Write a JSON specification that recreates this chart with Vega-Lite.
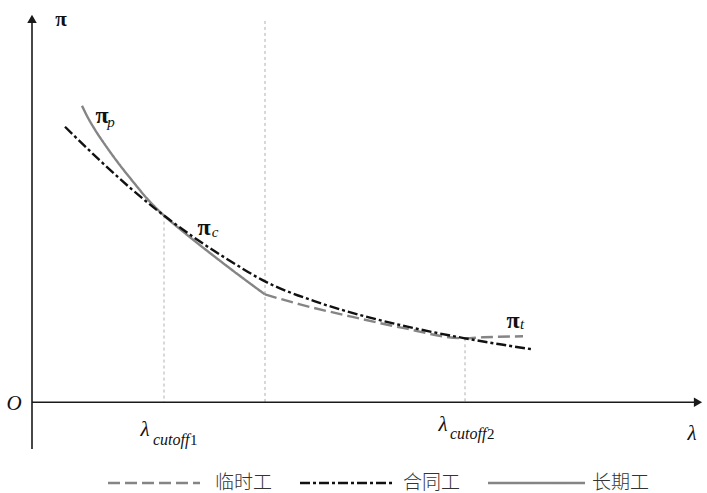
{
  "$schema": "https://vega.github.io/schema/vega-lite/v6.json",
  "width": 707,
  "height": 493,
  "autosize": {"type": "fit", "contains": "padding"},
  "padding": 0,
  "background": "white",
  "config": {"view": {"stroke": null}},
  "datasets": {
    "curves": [
      {"series": "长期工", "lam": 50, "pi": 297},
      {"series": "长期工", "lam": 56, "pi": 285},
      {"series": "长期工", "lam": 63, "pi": 273},
      {"series": "长期工", "lam": 73, "pi": 258},
      {"series": "长期工", "lam": 86, "pi": 240},
      {"series": "长期工", "lam": 101, "pi": 221},
      {"series": "长期工", "lam": 116, "pi": 203},
      {"series": "长期工", "lam": 132, "pi": 187},
      {"series": "长期工", "lam": 151, "pi": 171},
      {"series": "长期工", "lam": 185, "pi": 144},
      {"series": "长期工", "lam": 218, "pi": 119},
      {"series": "长期工", "lam": 233, "pi": 108},
      {"series": "临时工", "lam": 233, "pi": 108},
      {"series": "临时工", "lam": 268, "pi": 98},
      {"series": "临时工", "lam": 318, "pi": 86},
      {"series": "临时工", "lam": 368, "pi": 75},
      {"series": "临时工", "lam": 433, "pi": 64},
      {"series": "临时工", "lam": 451, "pi": 65},
      {"series": "临时工", "lam": 491, "pi": 66},
      {"series": "合同工", "lam": 33, "pi": 276},
      {"series": "合同工", "lam": 66, "pi": 244},
      {"series": "合同工", "lam": 99, "pi": 214},
      {"series": "合同工", "lam": 132, "pi": 187},
      {"series": "合同工", "lam": 165, "pi": 163},
      {"series": "合同工", "lam": 199, "pi": 141},
      {"series": "合同工", "lam": 233, "pi": 121},
      {"series": "合同工", "lam": 283, "pi": 101},
      {"series": "合同工", "lam": 333, "pi": 86},
      {"series": "合同工", "lam": 383, "pi": 74},
      {"series": "合同工", "lam": 433, "pi": 64},
      {"series": "合同工", "lam": 468, "pi": 58},
      {"series": "合同工", "lam": 500, "pi": 53}
    ],
    "guides": [
      {"lam": 132, "pi": 187, "pi2": 0},
      {"lam": 233, "pi": 382, "pi2": 0},
      {"lam": 433, "pi": 64, "pi2": 0}
    ],
    "legend": [
      {"series": "临时工", "lam": 76, "lam2": 168, "pi": -81, "tlam": 183},
      {"series": "合同工", "lam": 268, "lam2": 360, "pi": -81, "tlam": 371},
      {"series": "长期工", "lam": 456, "lam2": 553, "pi": -81, "tlam": 560}
    ]
  },
  "encoding": {
    "x": {"field": "lam", "type": "quantitative", "scale": {"domain": [-32, 675], "nice": false, "zero": false}, "axis": null},
    "y": {"field": "pi", "type": "quantitative", "scale": {"domain": [-90, 403], "nice": false, "zero": false}, "axis": null}
  },
  "layer": [
    {
      "data": {"name": "guides"},
      "mark": {"type": "rule", "color": "#b0b0b0", "strokeWidth": 1, "strokeDash": [3, 3]},
      "encoding": {"y2": {"field": "pi2"}}
    },
    {
      "data": {"values": [{"lam": 0, "lam2": 665, "pi": 0}]},
      "mark": {"type": "rule", "color": "#1a1a1a", "strokeWidth": 1.6},
      "encoding": {"x2": {"field": "lam2"}}
    },
    {
      "data": {"values": [{"lam": 0, "pi": -47, "pi2": 383}]},
      "mark": {"type": "rule", "color": "#1a1a1a", "strokeWidth": 1.6},
      "encoding": {"y2": {"field": "pi2"}}
    },
    {
      "data": {"values": [{"lam": 666, "pi": 0}]},
      "mark": {"type": "point", "shape": "triangle-right", "filled": true, "size": 90, "color": "#1a1a1a", "opacity": 1}
    },
    {
      "data": {"values": [{"lam": 0, "pi": 384}]},
      "mark": {"type": "point", "shape": "triangle-up", "filled": true, "size": 90, "color": "#1a1a1a", "opacity": 1}
    },
    {
      "data": {"name": "curves"},
      "mark": {"type": "line", "interpolate": "monotone", "strokeWidth": 2.4},
      "encoding": {
        "detail": {"field": "series"},
        "order": {"field": "lam", "type": "quantitative"},
        "color": {"field": "series", "type": "nominal", "scale": {"domain": ["临时工", "合同工", "长期工"], "range": ["#858585", "#111111", "#858585"]}, "legend": null},
        "strokeDash": {"field": "series", "type": "nominal", "scale": {"domain": ["临时工", "合同工", "长期工"], "range": [[12, 5], [10, 3, 3, 3], [1, 0]]}, "legend": null}
      }
    },
    {
      "data": {"name": "legend"},
      "mark": {"type": "rule", "strokeWidth": 2.4},
      "encoding": {
        "x2": {"field": "lam2"},
        "color": {"field": "series", "type": "nominal", "legend": null},
        "strokeDash": {"field": "series", "type": "nominal", "legend": null}
      }
    },
    {
      "data": {"name": "legend"},
      "mark": {"type": "text", "align": "left", "baseline": "middle", "font": "Noto Sans CJK SC", "fontSize": 19, "fontWeight": 300, "color": "#333333"},
      "encoding": {
        "x": {"field": "tlam", "type": "quantitative"},
        "text": {"field": "series"}
      }
    },
    {
      "data": {"values": [
        {"lam": 29, "pi": 383, "t": "π", "s": 21},
        {"lam": 70, "pi": 287, "t": "π", "s": 24},
        {"lam": 172, "pi": 175, "t": "π", "s": 24},
        {"lam": 481, "pi": 81, "t": "π", "s": 24}
      ]},
      "mark": {"type": "text", "align": "center", "baseline": "middle", "font": "Liberation Serif", "fontWeight": "bold", "color": "#111111"},
      "encoding": {"text": {"field": "t"}, "size": {"field": "s", "type": "quantitative", "scale": null}}
    },
    {
      "data": {"values": [
        {"lam": 79, "pi": 281, "t": "p"},
        {"lam": 183, "pi": 171, "t": "c"},
        {"lam": 490, "pi": 78, "t": "t"}
      ]},
      "mark": {"type": "text", "align": "center", "baseline": "middle", "font": "Liberation Serif", "fontStyle": "italic", "fontSize": 15, "color": "#111111"},
      "encoding": {"text": {"field": "t"}}
    },
    {
      "data": {"values": [
        {"lam": -18, "pi": -2, "t": "O"},
        {"lam": 660, "pi": -32, "t": "λ"},
        {"lam": 113, "pi": -28, "t": "λ"},
        {"lam": 411, "pi": -23, "t": "λ"}
      ]},
      "mark": {"type": "text", "align": "center", "baseline": "middle", "font": "Liberation Serif", "fontStyle": "italic", "fontSize": 21, "color": "#111111"},
      "encoding": {"text": {"field": "t"}}
    },
    {
      "data": {"values": [
        {"lam": 121, "pi": -38, "t": "cutoff"},
        {"lam": 418, "pi": -32, "t": "cutoff"}
      ]},
      "mark": {"type": "text", "align": "left", "baseline": "middle", "font": "Liberation Serif", "fontStyle": "italic", "fontSize": 16, "color": "#111111"},
      "encoding": {"text": {"field": "t"}}
    },
    {
      "data": {"values": [
        {"lam": 158, "pi": -38, "t": "1"},
        {"lam": 455, "pi": -32, "t": "2"}
      ]},
      "mark": {"type": "text", "align": "left", "baseline": "middle", "font": "Liberation Serif", "fontSize": 15, "color": "#111111"},
      "encoding": {"text": {"field": "t"}}
    }
  ]
}
